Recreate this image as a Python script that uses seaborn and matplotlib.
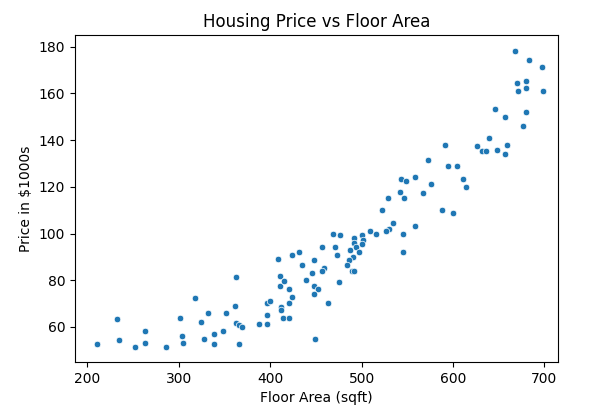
import matplotlib
matplotlib.use("Agg")
import matplotlib.pyplot as plt
import seaborn as sns

floor_area = [
    210.7, 232.7, 234.5, 252, 263.4, 263.4, 285.5, 301.8, 303.2, 305, 317.5, 324.2, 327.1,
    332.5, 338.5, 338.5, 348.1, 351.3, 361, 362.4, 362.7, 365.6, 365.6, 369.1, 388, 396.2,
    396.2, 396.2, 399.4, 409, 410.5, 410.5, 415.4, 420.4, 412.2, 412.2, 414, 420.4, 420.4,
    423.6, 423.6,
    572.1, 594.9, 604.5, 610.6, 614.1, 557.9, 543.3, 548.3, 575.6, 541.9, 567.5, 546.8,
    529.1, 522.3, 588.1, 599.6, 534, 530.1, 527.2, 557.9, 545.1, 545.1, 509, 515.8, 468.2,
    476.3, 500.3, 492, 501.6, 492, 500.3, 487.7, 493.8, 497.3, 490.1, 485.9, 484.5, 489.5,
    492, 457, 471.4, 473.1, 431.4, 447.4, 434.6, 446, 458.9, 457, 439.3, 447.4, 452.1,
    447.4, 474.9, 463.5, 448.9,
    668, 682.9, 697.1, 670.1, 679.7, 671.5, 679.7, 698.5, 645.8, 657.3, 679.7, 676.5,
    639.4, 626.6, 632, 636.3, 647.6, 658.6, 657.3, 591.3,
]
price = [
    52.5, 63.3, 54.3, 51.2, 58.2, 53, 51.2, 64, 56.3, 53, 72.3, 62, 55,
    65.9, 56.9, 52.5, 58.2, 65.9, 69, 81.3, 61.5, 61, 52.5, 60, 61.3, 61.3,
    65.1, 70.3, 71.1, 89, 81.9, 77.4, 79.5, 76.2, 68.4, 67.1, 64, 64, 70.3,
    90.9, 73,
    131.4, 128.9, 128.9, 123.2, 119.9, 124.3, 123.2, 122.5, 121.2, 117.9, 117.3, 115.3,
    115.3, 110.1, 110.1, 109, 104.6, 101.9, 101.1, 103.2, 100, 92.3, 101.1, 100, 100,
    99.3, 99.3, 97.9, 97.2, 96, 95.7, 92.9, 94.3, 92.3, 90, 88.6, 86.4, 83.9,
    83.9, 94.2, 94.2, 91, 92.3, 88.5, 86.4, 83.1, 85.2, 83.9, 80, 77.4, 76.2,
    74.1, 79.3, 70.3, 54.9,
    178.3, 174.4, 171.3, 164.3, 165.4, 161, 162.2, 161, 153.3, 150, 152, 146.2,
    141, 137.3, 135.3, 135.3, 136, 137.9, 134, 137.9,
]

fig, ax = plt.subplots(figsize=(5.9, 4.13), dpi=100)
fig.subplots_adjust(left=0.127, right=0.946, top=0.915, bottom=0.123)
sns.scatterplot(x=floor_area, y=price, ax=ax, s=22, color="#1f77b4", edgecolor="white", linewidth=0.5)
ax.set_xlim(186.4, 715)
ax.set_ylim(44.9, 185)
ax.set_xticks([200, 300, 400, 500, 600, 700])
ax.set_yticks([60, 80, 100, 120, 140, 160, 180])
ax.set_xlabel("Floor Area (sqft)")
ax.set_ylabel("Price in $1000s")
ax.set_title("Housing Price vs Floor Area")
fig.savefig("out.png")
